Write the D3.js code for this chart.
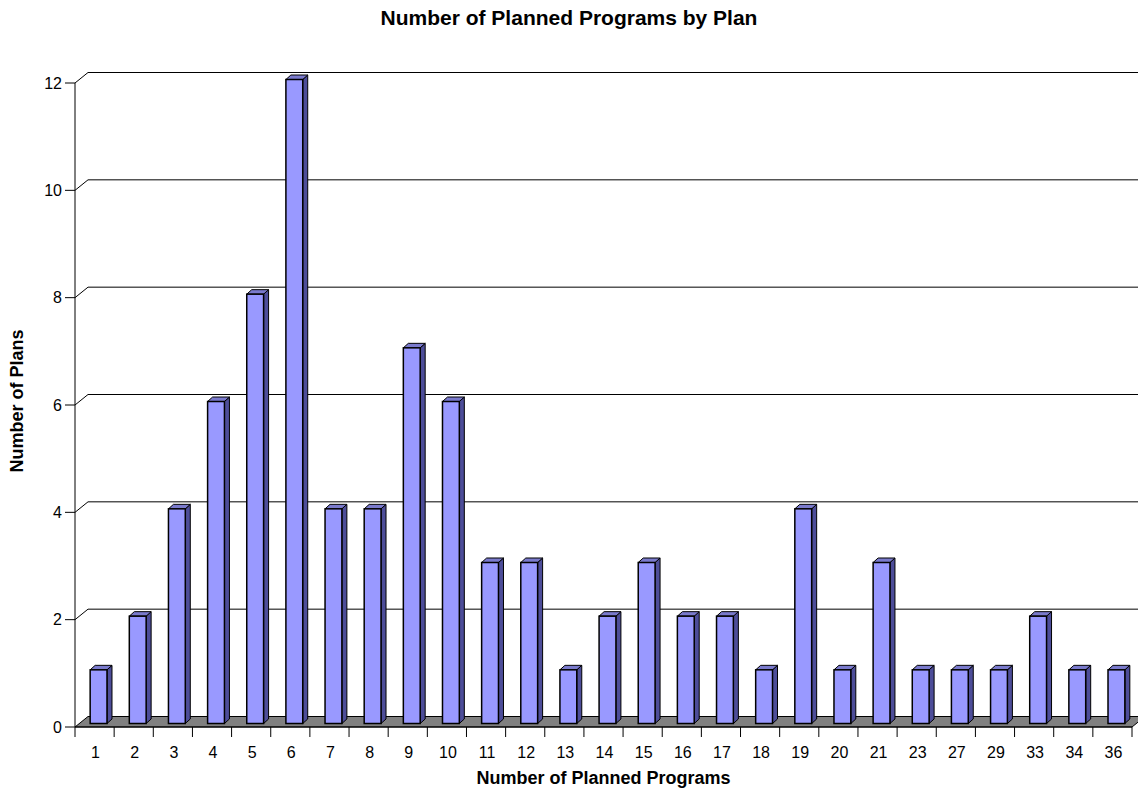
<!DOCTYPE html>
<html><head><meta charset="utf-8">
<script src="https://cdn.jsdelivr.net/npm/d3@7"></script>
<style>body{margin:0;background:#fff;} svg{display:block;font-family:"Liberation Sans",Arial,sans-serif;}</style>
</head><body>
<svg id="c" width="1138" height="788"></svg>
<script>
const categories = ["1","2","3","4","5","6","7","8","9","10","11","12","13","14","15","16","17","18","19","20","21","23","27","29","33","34","36"];
const values = [1,2,4,6,8,12,4,4,7,6,3,3,1,2,3,2,2,1,4,1,3,1,1,1,2,1,1];
const yTicks = [0,2,4,6,8,10,12];
const title = "Number of Planned Programs by Plan";
const xTitle = "Number of Planned Programs";
const yTitle = "Number of Plans";

const svg = d3.select("#c");
const W = 1138, H = 788;
const left = 75, right = 1132, y0 = 727, yTop = 83;
const DX = 13, DY = -10.5;          // wall depth offset
const bDY = -3.5;                     // bar front plane offset from front
const dDX = 5, dDY = -4.5;            // bar depth

const x = d3.scaleBand().domain(categories).range([left, right]).paddingInner(0.57).paddingOuter(0.285);
const y = d3.scaleLinear().domain([0, 12]).range([y0, yTop]);

// back wall gridlines
const g = svg.append("g");
yTicks.forEach(t => {
  if (t === 0) return;
  const yy = y(t);
  g.append("path").attr("d", `M${left},${yy} L${left+DX},${yy+DY} L${W+5},${yy+DY}`)
    .attr("fill","none").attr("stroke","#000").attr("stroke-width",1);
});

// floor
g.append("path")
  .attr("d", `M${left},${y0} L${left+DX},${y0+DY} L${right+DX},${y0+DY} L${right},${y0} Z`)
  .attr("fill","#808080").attr("stroke","#000").attr("stroke-width",1);

// y axis front line
g.append("line").attr("x1",left).attr("x2",left).attr("y1",yTop).attr("y2",y0).attr("stroke","#000");
// y ticks
const ya = svg.append("g");
yTicks.forEach(t => {
  ya.append("line").attr("x1",left-10).attr("x2",left).attr("y1",y(t)).attr("y2",y(t)).attr("stroke","#000");
  ya.append("text").attr("x",left-13).attr("y",y(t)).attr("dy","0.36em").attr("text-anchor","end")
    .attr("font-size",16).text(t);
});
// x axis line & ticks
g.append("line").attr("x1",left).attr("x2",right).attr("y1",y0).attr("y2",y0).attr("stroke","#000");
const edges = categories.map(c => x(c) - x.step()*x.paddingInner()/2).concat([right]);
edges.forEach((e,i) => {
  const ex = i===0 ? left : e;
  g.append("line").attr("x1",ex).attr("x2",ex).attr("y1",y0).attr("y2",y0+10).attr("stroke","#000");
});
categories.forEach(c => {
  svg.append("text").attr("x", x(c)+x.bandwidth()/2 + 1).attr("y", 758).attr("text-anchor","middle")
    .attr("font-size",16).text(c);
});

// bars
const bars = svg.append("g");
categories.forEach((c,i) => {
  const v = values[i];
  const fx = x(c) + 4, fw = x.bandwidth();
  const fb = y0 + bDY, ft = y(v) + bDY;
  bars.append("path").attr("d",
    `M${fx+fw},${fb} L${fx+fw+dDX},${fb+dDY} L${fx+fw+dDX},${ft+dDY} L${fx+fw},${ft} Z`)
    .attr("fill","#4d4d99").attr("stroke","#000").attr("stroke-width",1).attr("stroke-linejoin","round");
  bars.append("path").attr("d",
    `M${fx},${ft} L${fx+dDX},${ft+dDY} L${fx+fw+dDX},${ft+dDY} L${fx+fw},${ft} Z`)
    .attr("fill","#7a7acc").attr("stroke","#000").attr("stroke-width",1).attr("stroke-linejoin","round");
  bars.append("rect").attr("x",fx).attr("y",ft).attr("width",fw).attr("height",fb-ft)
    .attr("fill","#9999ff").attr("stroke","#000").attr("stroke-width",1.5);
});

// titles
svg.append("text").attr("x",569).attr("y",25).attr("text-anchor","middle")
  .attr("font-size",21).attr("font-weight","bold").text(title);
svg.append("text").attr("x",(left+right)/2).attr("y",784).attr("text-anchor","middle")
  .attr("font-size",18).attr("font-weight","bold").text(xTitle);
svg.append("text").attr("transform","translate(23,401) rotate(-90)").attr("text-anchor","middle")
  .attr("font-size",18).attr("font-weight","bold").text(yTitle);
</script>
</body></html>
